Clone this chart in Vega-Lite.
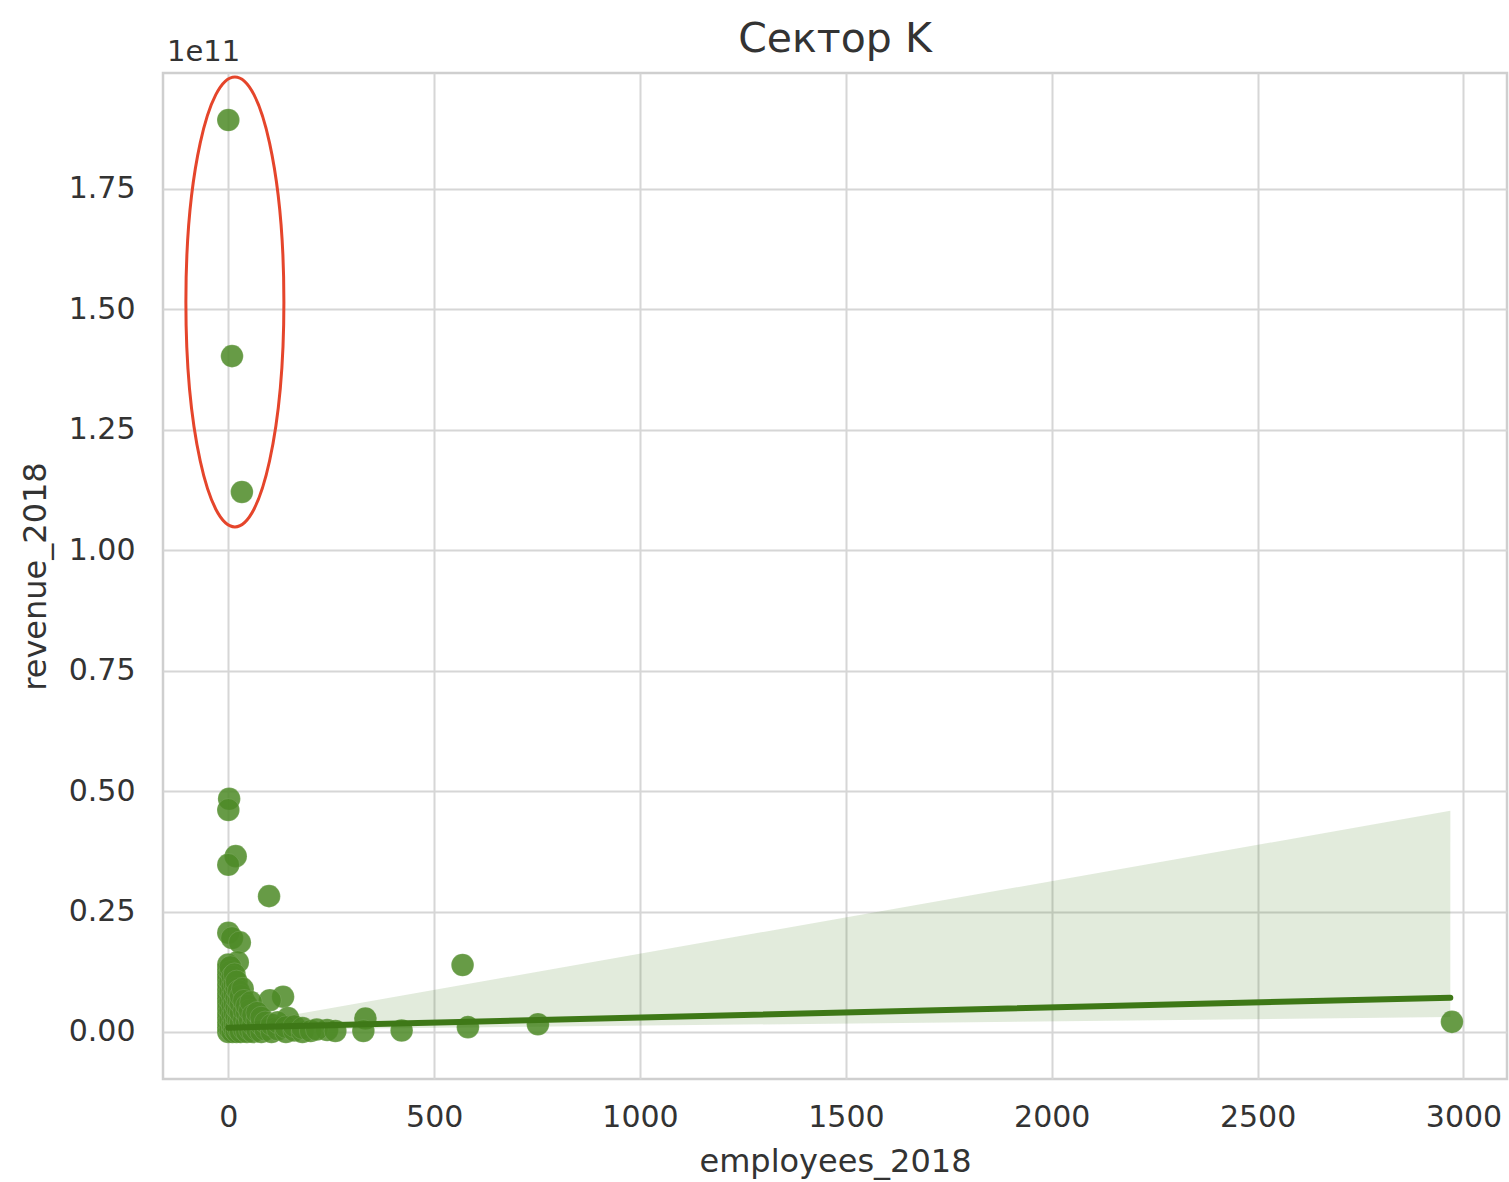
{
  "$schema": "https://vega.github.io/schema/vega-lite/v6.json",
  "width": 1344,
  "height": 1006,
  "autosize": {"type": "none"},
  "padding": {"left": 163, "top": 73, "right": 2, "bottom": 103},
  "background": "white",
  "config": {
    "font": "DejaVu Sans",
    "view": {"stroke": "#cfcfcf", "strokeWidth": 2.5},
    "axis": {
      "gridColor": "#d6d6d6",
      "gridWidth": 2,
      "domain": false,
      "ticks": false,
      "labelFont": "DejaVu Sans",
      "labelFontSize": 30,
      "labelColor": "#333333",
      "titleFont": "DejaVu Sans",
      "titleFontSize": 32,
      "titleFontWeight": "normal",
      "titleColor": "#333333"
    }
  },
  "title": {
    "text": "Сектор K",
    "fontSize": 41,
    "fontWeight": "normal",
    "color": "#333333",
    "font": "DejaVu Sans",
    "offset": -23
  },
  "datasets": {
    "points": [
      {"employees_2018": 0, "revenue_2018": 1.893e11},
      {"employees_2018": 9, "revenue_2018": 1.403e11},
      {"employees_2018": 33, "revenue_2018": 1.121e11},
      {"employees_2018": 2, "revenue_2018": 0.484e11},
      {"employees_2018": 0, "revenue_2018": 0.461e11},
      {"employees_2018": 18, "revenue_2018": 0.365e11},
      {"employees_2018": 0, "revenue_2018": 0.347e11},
      {"employees_2018": 99, "revenue_2018": 0.282e11},
      {"employees_2018": 0, "revenue_2018": 0.206e11},
      {"employees_2018": 9, "revenue_2018": 0.195e11},
      {"employees_2018": 28, "revenue_2018": 0.186e11},
      {"employees_2018": 23, "revenue_2018": 0.145e11},
      {"employees_2018": 569, "revenue_2018": 0.139e11},
      {"employees_2018": 133, "revenue_2018": 0.073e11},
      {"employees_2018": 101, "revenue_2018": 0.066e11},
      {"employees_2018": 145, "revenue_2018": 0.029e11},
      {"employees_2018": 240, "revenue_2018": 0.004e11},
      {"employees_2018": 333, "revenue_2018": 0.028e11},
      {"employees_2018": 328, "revenue_2018": 0.002e11},
      {"employees_2018": 421, "revenue_2018": 0.003e11},
      {"employees_2018": 582, "revenue_2018": 0.010e11},
      {"employees_2018": 752, "revenue_2018": 0.016e11},
      {"employees_2018": 2972, "revenue_2018": 0.021e11},
      {"employees_2018": 0, "revenue_2018": 0.0},
      {"employees_2018": 0, "revenue_2018": 0.01e11},
      {"employees_2018": 0, "revenue_2018": 0.02e11},
      {"employees_2018": 0, "revenue_2018": 0.03e11},
      {"employees_2018": 0, "revenue_2018": 0.04e11},
      {"employees_2018": 0, "revenue_2018": 0.05e11},
      {"employees_2018": 0, "revenue_2018": 0.06e11},
      {"employees_2018": 0, "revenue_2018": 0.07e11},
      {"employees_2018": 0, "revenue_2018": 0.08e11},
      {"employees_2018": 0, "revenue_2018": 0.09e11},
      {"employees_2018": 0, "revenue_2018": 0.10e11},
      {"employees_2018": 0, "revenue_2018": 0.11e11},
      {"employees_2018": 0, "revenue_2018": 0.12e11},
      {"employees_2018": 0, "revenue_2018": 0.13e11},
      {"employees_2018": 0, "revenue_2018": 0.14e11},
      {"employees_2018": 5, "revenue_2018": 0.005e11},
      {"employees_2018": 5, "revenue_2018": 0.025e11},
      {"employees_2018": 5, "revenue_2018": 0.045e11},
      {"employees_2018": 5, "revenue_2018": 0.065e11},
      {"employees_2018": 5, "revenue_2018": 0.085e11},
      {"employees_2018": 5, "revenue_2018": 0.105e11},
      {"employees_2018": 5, "revenue_2018": 0.125e11},
      {"employees_2018": 5, "revenue_2018": 0.135e11},
      {"employees_2018": 10, "revenue_2018": 0.0},
      {"employees_2018": 10, "revenue_2018": 0.015e11},
      {"employees_2018": 10, "revenue_2018": 0.035e11},
      {"employees_2018": 10, "revenue_2018": 0.055e11},
      {"employees_2018": 10, "revenue_2018": 0.075e11},
      {"employees_2018": 10, "revenue_2018": 0.095e11},
      {"employees_2018": 10, "revenue_2018": 0.115e11},
      {"employees_2018": 15, "revenue_2018": 0.005e11},
      {"employees_2018": 15, "revenue_2018": 0.02e11},
      {"employees_2018": 15, "revenue_2018": 0.04e11},
      {"employees_2018": 15, "revenue_2018": 0.06e11},
      {"employees_2018": 15, "revenue_2018": 0.08e11},
      {"employees_2018": 15, "revenue_2018": 0.10e11},
      {"employees_2018": 15, "revenue_2018": 0.12e11},
      {"employees_2018": 20, "revenue_2018": 0.0},
      {"employees_2018": 20, "revenue_2018": 0.015e11},
      {"employees_2018": 20, "revenue_2018": 0.03e11},
      {"employees_2018": 20, "revenue_2018": 0.05e11},
      {"employees_2018": 20, "revenue_2018": 0.07e11},
      {"employees_2018": 20, "revenue_2018": 0.09e11},
      {"employees_2018": 20, "revenue_2018": 0.105e11},
      {"employees_2018": 25, "revenue_2018": 0.005e11},
      {"employees_2018": 25, "revenue_2018": 0.025e11},
      {"employees_2018": 25, "revenue_2018": 0.045e11},
      {"employees_2018": 25, "revenue_2018": 0.065e11},
      {"employees_2018": 25, "revenue_2018": 0.085e11},
      {"employees_2018": 30, "revenue_2018": 0.0},
      {"employees_2018": 30, "revenue_2018": 0.02e11},
      {"employees_2018": 30, "revenue_2018": 0.04e11},
      {"employees_2018": 30, "revenue_2018": 0.06e11},
      {"employees_2018": 30, "revenue_2018": 0.075e11},
      {"employees_2018": 35, "revenue_2018": 0.09e11},
      {"employees_2018": 38, "revenue_2018": 0.005e11},
      {"employees_2018": 38, "revenue_2018": 0.025e11},
      {"employees_2018": 38, "revenue_2018": 0.045e11},
      {"employees_2018": 38, "revenue_2018": 0.065e11},
      {"employees_2018": 45, "revenue_2018": 0.0},
      {"employees_2018": 45, "revenue_2018": 0.02e11},
      {"employees_2018": 45, "revenue_2018": 0.04e11},
      {"employees_2018": 45, "revenue_2018": 0.055e11},
      {"employees_2018": 52, "revenue_2018": 0.005e11},
      {"employees_2018": 52, "revenue_2018": 0.025e11},
      {"employees_2018": 52, "revenue_2018": 0.045e11},
      {"employees_2018": 55, "revenue_2018": 0.062e11},
      {"employees_2018": 60, "revenue_2018": 0.0},
      {"employees_2018": 60, "revenue_2018": 0.015e11},
      {"employees_2018": 60, "revenue_2018": 0.035e11},
      {"employees_2018": 70, "revenue_2018": 0.005e11},
      {"employees_2018": 70, "revenue_2018": 0.025e11},
      {"employees_2018": 70, "revenue_2018": 0.04e11},
      {"employees_2018": 80, "revenue_2018": 0.0},
      {"employees_2018": 80, "revenue_2018": 0.015e11},
      {"employees_2018": 80, "revenue_2018": 0.03e11},
      {"employees_2018": 90, "revenue_2018": 0.005e11},
      {"employees_2018": 90, "revenue_2018": 0.02e11},
      {"employees_2018": 105, "revenue_2018": 0.0},
      {"employees_2018": 105, "revenue_2018": 0.015e11},
      {"employees_2018": 120, "revenue_2018": 0.005e11},
      {"employees_2018": 120, "revenue_2018": 0.02e11},
      {"employees_2018": 140, "revenue_2018": 0.0},
      {"employees_2018": 140, "revenue_2018": 0.01e11},
      {"employees_2018": 160, "revenue_2018": 0.003e11},
      {"employees_2018": 160, "revenue_2018": 0.012e11},
      {"employees_2018": 180, "revenue_2018": 0.0},
      {"employees_2018": 180, "revenue_2018": 0.008e11},
      {"employees_2018": 200, "revenue_2018": 0.002e11},
      {"employees_2018": 215, "revenue_2018": 0.005e11},
      {"employees_2018": 260, "revenue_2018": 0.002e11}
    ],
    "fit": [
      {"employees_2018": 0, "fit": 0.009e11, "lo": 0.004e11, "hi": 0.012e11},
      {"employees_2018": 2968, "fit": 0.0713e11, "lo": 0.031e11, "hi": 0.459e11}
    ],
    "annotation": [
      {"employees_2018": 16, "revenue_2018": 1.5155e11}
    ],
    "offset": [
      {"employees_2018": -149, "revenue_2018": 2.016e11, "label": "1e11"}
    ]
  },
  "layer": [
    {
      "data": {"name": "points"},
      "mark": {"type": "circle", "size": 510, "color": "#4d8a26", "opacity": 0.85, "stroke": "#ffffff", "strokeOpacity": 0.15, "strokeWidth": 1},
      "encoding": {
        "x": {
          "field": "employees_2018",
          "type": "quantitative",
          "scale": {"domain": [-158.6, 3105.7], "nice": false, "zero": false},
          "axis": {"values": [0, 500, 1000, 1500, 2000, 2500, 3000], "format": "d", "labelPadding": 23, "titlePadding": 14, "title": "employees_2018"}
        },
        "y": {
          "field": "revenue_2018",
          "type": "quantitative",
          "scale": {"domain": [-0.0976e11, 1.9907e11], "nice": false, "zero": false},
          "axis": {
            "values": [0, 0.25e11, 0.5e11, 0.75e11, 1.0e11, 1.25e11, 1.5e11, 1.75e11],
            "labelExpr": "format(datum.value / 1e11, '.2f')",
            "labelPadding": 28,
            "titlePadding": 16,
            "title": "revenue_2018"
          }
        }
      }
    },
    {
      "data": {"name": "fit"},
      "mark": {"type": "area", "color": "#3e7817", "opacity": 0.15},
      "encoding": {
        "x": {"field": "employees_2018", "type": "quantitative"},
        "y": {"field": "lo", "type": "quantitative"},
        "y2": {"field": "hi"}
      }
    },
    {
      "data": {"name": "fit"},
      "mark": {"type": "line", "color": "#3e7817", "strokeWidth": 6, "strokeCap": "round"},
      "encoding": {
        "x": {"field": "employees_2018", "type": "quantitative"},
        "y": {"field": "fit", "type": "quantitative"}
      }
    },
    {
      "data": {"name": "annotation"},
      "mark": {
        "type": "point",
        "shape": "M 0,-1 C 0.1203,-1 0.2178,-0.5523 0.2178,0 C 0.2178,0.5523 0.1203,1 0,1 C -0.1203,1 -0.2178,0.5523 -0.2178,0 C -0.2178,-0.5523 -0.1203,-1 0,-1 Z",
        "size": 202500,
        "filled": false,
        "stroke": "#e5452b",
        "strokeWidth": 3,
        "opacity": 1
      },
      "encoding": {
        "x": {"field": "employees_2018", "type": "quantitative"},
        "y": {"field": "revenue_2018", "type": "quantitative"}
      }
    },
    {
      "data": {"name": "offset"},
      "mark": {"type": "text", "align": "left", "baseline": "alphabetic", "fontSize": 29, "color": "#333333", "font": "DejaVu Sans"},
      "encoding": {
        "x": {"field": "employees_2018", "type": "quantitative"},
        "y": {"field": "revenue_2018", "type": "quantitative"},
        "text": {"field": "label"}
      }
    }
  ]
}
